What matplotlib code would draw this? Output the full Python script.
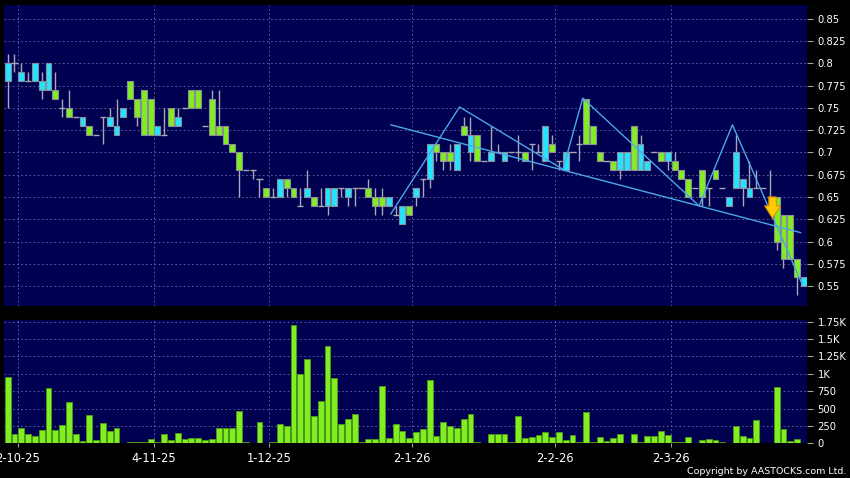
import matplotlib
matplotlib.use('Agg')
import matplotlib.pyplot as plt
import numpy as np

# daily OHLC (index 0 .. 117)
opens = [0.78, 0.80, 0.78, 0.78, 0.78, 0.77, 0.77, 0.77, 0.75, 0.75,
         0.74, 0.73, 0.73, 0.72, 0.74, 0.73, 0.72, 0.74, 0.78, 0.76,
         0.77, 0.76, 0.72, 0.72, 0.75, 0.73, 0.75, 0.77, 0.77, 0.73,
         0.76, 0.73, 0.73, 0.71, 0.70, 0.68, 0.68, 0.67, 0.66, 0.65,
         0.65, 0.67, 0.66, 0.64, 0.65, 0.65, 0.64, 0.64, 0.64, 0.66,
         0.65, 0.66, 0.66, 0.66, 0.65, 0.65, 0.64, 0.63, 0.62, 0.64,
         0.65, 0.67, 0.67, 0.71, 0.70, 0.70, 0.68, 0.73, 0.70, 0.72,
         0.69, 0.69, 0.70, 0.69, 0.70, 0.70, 0.70, 0.71, 0.70, 0.69,
         0.71, 0.69, 0.68, 0.70, 0.71, 0.76, 0.73, 0.70, 0.69, 0.69,
         0.68, 0.68, 0.73, 0.68, 0.68, 0.70, 0.70, 0.69, 0.69, 0.68,
         0.67, 0.66, 0.68, 0.66, 0.68, 0.66, 0.64, 0.66, 0.66, 0.65,
         0.66, 0.66, 0.65, 0.65, 0.63, 0.63, 0.58, 0.55]
highs = [0.81, 0.81, 0.80, 0.79, 0.80, 0.79, 0.80, 0.79, 0.76, 0.77,
         0.74, 0.74, 0.73, 0.72, 0.74, 0.75, 0.76, 0.75, 0.78, 0.76,
         0.77, 0.76, 0.73, 0.75, 0.75, 0.75, 0.75, 0.77, 0.77, 0.73,
         0.77, 0.77, 0.73, 0.71, 0.70, 0.68, 0.68, 0.67, 0.66, 0.66,
         0.67, 0.67, 0.66, 0.66, 0.68, 0.65, 0.66, 0.66, 0.66, 0.66,
         0.66, 0.66, 0.66, 0.67, 0.66, 0.66, 0.65, 0.64, 0.64, 0.64,
         0.66, 0.67, 0.71, 0.71, 0.70, 0.71, 0.71, 0.74, 0.74, 0.72,
         0.69, 0.73, 0.71, 0.70, 0.70, 0.72, 0.70, 0.71, 0.71, 0.73,
         0.72, 0.69, 0.70, 0.70, 0.72, 0.76, 0.73, 0.70, 0.69, 0.69,
         0.70, 0.70, 0.73, 0.72, 0.69, 0.70, 0.70, 0.70, 0.70, 0.68,
         0.67, 0.66, 0.68, 0.66, 0.68, 0.66, 0.65, 0.72, 0.67, 0.69,
         0.68, 0.66, 0.68, 0.65, 0.63, 0.63, 0.58, 0.56]
lows = [0.75, 0.79, 0.78, 0.78, 0.78, 0.76, 0.77, 0.76, 0.74, 0.74,
        0.74, 0.73, 0.72, 0.72, 0.71, 0.73, 0.72, 0.74, 0.76, 0.73,
        0.72, 0.72, 0.72, 0.72, 0.73, 0.73, 0.75, 0.75, 0.75, 0.73,
        0.72, 0.72, 0.71, 0.70, 0.65, 0.68, 0.67, 0.65, 0.65, 0.65,
        0.65, 0.65, 0.65, 0.64, 0.65, 0.64, 0.64, 0.63, 0.64, 0.65,
        0.64, 0.64, 0.66, 0.65, 0.63, 0.63, 0.64, 0.63, 0.62, 0.63,
        0.64, 0.65, 0.66, 0.69, 0.68, 0.68, 0.68, 0.72, 0.69, 0.69,
        0.69, 0.69, 0.70, 0.69, 0.70, 0.69, 0.69, 0.68, 0.70, 0.69,
        0.70, 0.68, 0.68, 0.70, 0.69, 0.71, 0.71, 0.69, 0.69, 0.68,
        0.67, 0.68, 0.68, 0.68, 0.68, 0.70, 0.69, 0.68, 0.68, 0.67,
        0.65, 0.66, 0.64, 0.64, 0.67, 0.66, 0.64, 0.66, 0.64, 0.65,
        0.66, 0.66, 0.65, 0.59, 0.57, 0.58, 0.54, 0.55]
closes = [0.80, 0.80, 0.79, 0.78, 0.80, 0.78, 0.80, 0.76, 0.75, 0.74,
          0.74, 0.74, 0.72, 0.72, 0.74, 0.74, 0.73, 0.75, 0.76, 0.74,
          0.72, 0.72, 0.73, 0.72, 0.73, 0.74, 0.75, 0.75, 0.75, 0.73,
          0.72, 0.72, 0.71, 0.70, 0.68, 0.68, 0.68, 0.67, 0.65, 0.65,
          0.67, 0.66, 0.65, 0.64, 0.66, 0.64, 0.64, 0.66, 0.66, 0.66,
          0.66, 0.66, 0.66, 0.65, 0.64, 0.64, 0.65, 0.63, 0.64, 0.63,
          0.66, 0.67, 0.71, 0.70, 0.69, 0.69, 0.71, 0.72, 0.72, 0.69,
          0.69, 0.70, 0.70, 0.70, 0.70, 0.70, 0.69, 0.71, 0.70, 0.73,
          0.70, 0.69, 0.70, 0.70, 0.71, 0.71, 0.71, 0.69, 0.69, 0.68,
          0.70, 0.70, 0.68, 0.71, 0.69, 0.70, 0.69, 0.70, 0.68, 0.67,
          0.65, 0.66, 0.65, 0.66, 0.67, 0.66, 0.65, 0.70, 0.67, 0.66,
          0.66, 0.66, 0.65, 0.60, 0.58, 0.58, 0.56, 0.56]
volumes = [960, 135, 225, 130, 105, 190, 795, 190, 265, 600,
           140, 35, 410, 45, 295, 180, 215, 5, 12, 12,
           20, 60, 20, 130, 50, 145, 55, 75, 70, 50,
           55, 220, 220, 225, 470, 20, 10, 300, 3, 25,
           280, 245, 1700, 1000, 1215, 395, 610, 1395, 935, 275,
           350, 425, 25, 65, 65, 820, 80, 275, 175, 75,
           165, 205, 905, 100, 310, 250, 215, 350, 415, 25,
           2, 135, 135, 135, 20, 390, 70, 90, 115, 160,
           95, 165, 45, 125, 12, 455, 12, 90, 35, 70,
           140, 5, 140, 15, 105, 110, 170, 125, 15, 25,
           90, 2, 50, 55, 50, 15, 2, 255, 100, 80,
           330, 5, 5, 815, 205, 35, 55, 2]

# first trading day of each month -> date label
tick_idx = [1, 21, 38, 59, 80, 97]
tick_labels = ['2-10-25', '4-11-25', '1-12-25', '2-1-26', '2-2-26', '2-3-26']

price_ticks = [0.55, 0.575, 0.6, 0.625, 0.65, 0.675, 0.7, 0.725, 0.75, 0.775, 0.8, 0.825, 0.85]
vol_ticks = [0, 250, 500, 750, 1000, 1250, 1500, 1750]
vol_labels = ['0', '250', '500', '750', '1K', '1.25K', '1.5K', '1.75K']

# drawn pattern lines (x in trading-day index, y in price)
zig_x = [56.3, 66.4, 81.6, 84.5, 101.6, 106.5, 116.7]
zig_y = [0.631, 0.751, 0.681, 0.761, 0.640, 0.731, 0.553]
trend_x = [56.3, 116.5]
trend_y = [0.731, 0.610]
arrow_x = 112.4
arrow_from, arrow_to = 0.650, 0.626

BG = '#000050'
UP = '#22e4ff'
DOWN = '#80ee20'
EDGE = '#8c8c9c'
WICK = '#a8a8b4'
GRID = '#6a6aa8'
LINE = '#4aa8e8'

fig = plt.figure(figsize=(8.5, 4.78), dpi=100, facecolor='black')
ax = fig.add_axes([4/850, 1 - 306/478, 803.3/850, 301/478])
axv = fig.add_axes([4/850, 1 - 443.3/478, 803.3/850, 123.3/478], sharex=ax)

x = np.arange(len(opens))
o = np.array(opens)
h = np.array(highs)
l = np.array(lows)
c = np.array(closes)
up = c > o
dn = c < o
flat = c == o

ax.vlines(x, l, h, color=WICK, lw=1, zorder=2)
ax.bar(x[up], (c - o)[up], bottom=o[up], width=0.86, color=UP,
       edgecolor=EDGE, lw=0.8, zorder=3)
ax.bar(x[dn], (o - c)[dn], bottom=c[dn], width=0.86, color=DOWN,
       edgecolor=EDGE, lw=0.8, zorder=3)
ax.hlines(o[flat], x[flat] - 0.45, x[flat] + 0.45, color=WICK, lw=1, zorder=3)

ax.plot(zig_x, zig_y, color=LINE, lw=1, zorder=4)
ax.plot(trend_x, trend_y, color=LINE, lw=1, zorder=4)
ax.annotate('', xy=(arrow_x, arrow_to), xytext=(arrow_x, arrow_from),
            arrowprops=dict(arrowstyle='simple,head_length=0.75,head_width=0.95,tail_width=0.45',
                            fc='#ffcc00', ec='#e08a00', lw=0.8,
                            mutation_scale=12, shrinkA=0, shrinkB=0),
            zorder=5)

axv.bar(x, volumes, width=0.86, color=DOWN, edgecolor='#4f9a14', lw=0.6, zorder=3)

xt = [i + 0.45 for i in tick_idx]
for a in (ax, axv):
    a.set_facecolor(BG)
    for s in a.spines.values():
        s.set_visible(False)
    a.yaxis.tick_right()
    a.grid(True, color=GRID, ls=(0, (2, 3)), lw=0.6)
    a.set_axisbelow(True)
    a.tick_params(axis='y', colors='#a0a0a0', labelcolor='white',
                  length=4.3, width=0.8, pad=3, labelsize=7.2)

ax.set_xlim(-0.54, 117.5)
ax.set_ylim(0.5276, 0.8655)
ax.set_yticks(price_ticks)
ax.set_yticklabels([f'{round(v, 3):g}' for v in price_ticks])
ax.set_xticks(xt)
ax.tick_params(axis='x', length=0, labelbottom=False)

axv.set_ylim(0, 1775)
axv.set_yticks(vol_ticks)
axv.set_yticklabels(vol_labels)
axv.set_xticks(xt)
axv.set_xticklabels(tick_labels)
axv.tick_params(axis='x', colors='#a0a0a0', labelcolor='white',
                length=3, width=0.8, pad=3, labelsize=8.3)

fig.text(846/850, 1 - 471/478, 'Copyright by AASTOCKS.com Ltd.', color='white',
         fontsize=6.8, ha='right', va='center')

fig.savefig('out.png', dpi=100, facecolor='black')
